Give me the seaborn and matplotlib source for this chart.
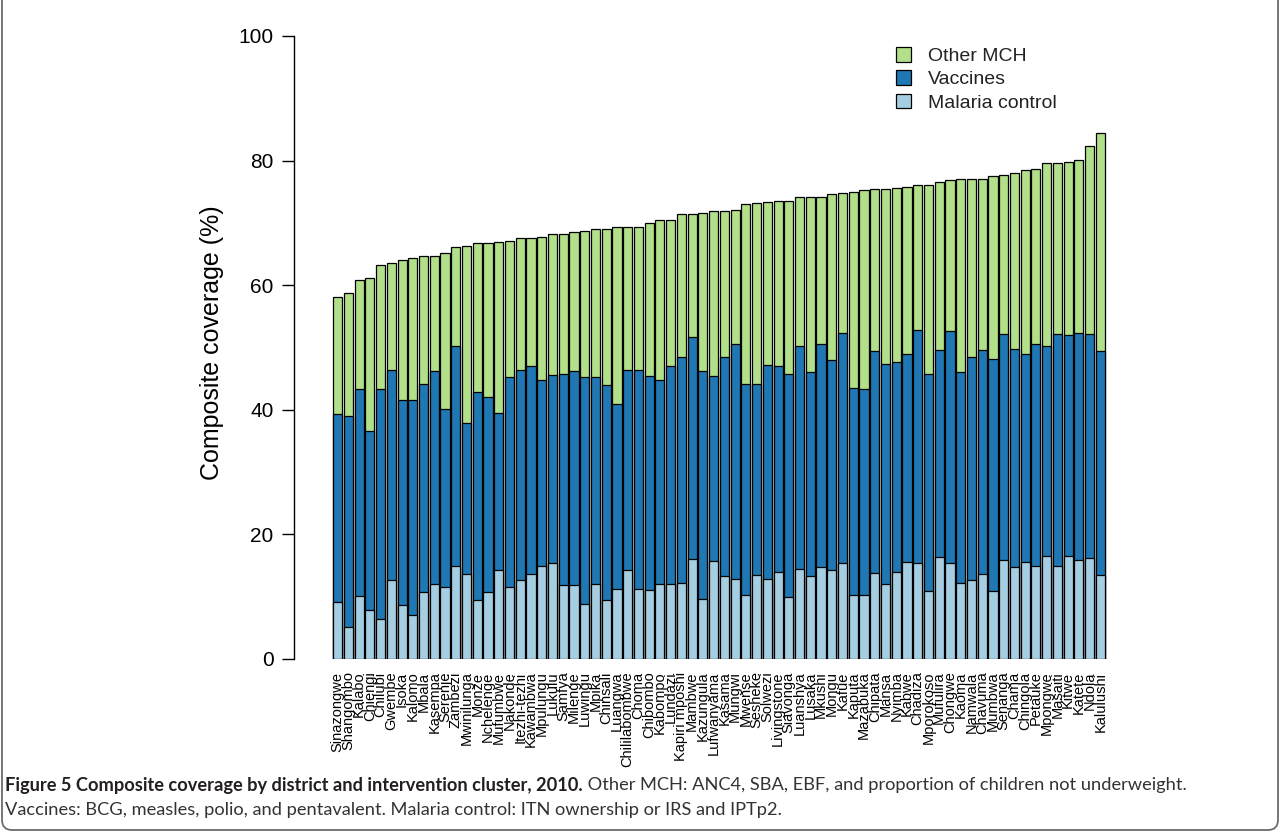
import matplotlib
matplotlib.use("Agg")
import matplotlib.pyplot as plt
from matplotlib.patches import Patch, FancyBboxPatch
from matplotlib.transforms import IdentityTransform
import pandas as pd
import seaborn as sns

# Districts, ordered by composite coverage
districts = [
    "Sinazongwe", "Shangombo", "Kalabo", "Chiengi", "Chilubi", "Gwembe", "Isoka", "Kalomo",
    "Mbala", "Kasempa", "Serenje", "Zambezi", "Mwinilunga", "Monze", "Nchelenge", "Mufumbwe",
    "Nakonde", "Itezhi-tezhi", "Kawambwa", "Mpulungu", "Lukulu", "Samfya", "Milenge", "Luwingu",
    "Mpika", "Chinsali", "Luangwa", "Chililabombwe", "Choma", "Chibombo", "Kabompo", "Lundazi",
    "Kapiri mposhi", "Mambwe", "Kazungula", "Lufwanyama", "Kasama", "Mungwi", "Mwense", "Sesheke",
    "Solwezi", "Livingstone", "Siavonga", "Luanshya", "Lusaka", "Mkushi", "Mongu", "Kafue",
    "Kaputa", "Mazabuka", "Chipata", "Mansa", "Nyimba", "Kabwe", "Chadiza", "Mporokoso",
    "Mufulira", "Chongwe", "Kaoma", "Namwala", "Chavuma", "Mumbwa", "Senanga", "Chama",
    "Chingola", "Petauke", "Mpongwe", "Masaiti", "Kitwe", "Katete", "Ndola", "Kalulushi",
]

# Contribution of each intervention cluster (percentage points)
malaria = [
    9.2, 5.1, 10.1, 7.9, 6.5, 12.6, 8.6, 7.1, 10.8, 12.0, 11.6, 14.9, 13.6, 9.5, 10.8, 14.3,
    11.5, 12.7, 13.6, 14.9, 15.4, 11.8, 11.8, 8.8, 12.1, 9.5, 11.3, 14.3, 11.3, 11.1, 12.1, 12.0,
    12.2, 16.1, 9.7, 15.8, 13.3, 12.9, 10.3, 13.5, 12.9, 14.0, 10.0, 14.5, 13.3, 14.7, 14.3, 15.4,
    10.2, 10.3, 13.8, 12.1, 14.0, 15.5, 15.4, 10.9, 16.3, 15.4, 12.2, 12.6, 13.6, 10.9, 15.9, 14.8,
    15.5, 15.0, 16.6, 15.0, 16.6, 15.9, 16.2, 13.5,
]
vaccines = [
    30.1, 33.9, 33.2, 28.7, 36.8, 33.8, 32.9, 34.4, 33.3, 34.2, 28.6, 35.4, 24.3, 33.4, 31.2, 25.2,
    33.7, 33.7, 33.4, 29.8, 30.2, 33.9, 34.4, 36.5, 33.2, 34.5, 29.6, 32.1, 35.1, 34.4, 32.6, 35.0,
    36.2, 35.5, 36.6, 29.7, 35.1, 37.6, 33.9, 30.7, 34.3, 33.0, 35.7, 35.7, 32.8, 35.9, 33.7, 37.0,
    33.3, 33.0, 35.7, 35.2, 33.6, 33.4, 37.4, 34.8, 33.3, 37.3, 33.9, 35.9, 36.0, 37.2, 36.3, 34.9,
    33.4, 35.6, 33.7, 37.2, 35.4, 36.4, 36.0, 36.0,
]
other_mch = [
    18.8, 19.8, 17.5, 24.5, 19.9, 17.2, 22.5, 22.8, 20.5, 18.4, 25.0, 15.8, 28.4, 23.8, 24.7, 27.4,
    21.9, 21.1, 20.5, 23.1, 22.6, 22.5, 22.3, 23.4, 23.7, 25.0, 28.4, 22.9, 23.0, 24.5, 25.7, 23.5,
    23.0, 19.8, 25.3, 26.4, 23.5, 21.6, 28.8, 29.0, 26.2, 26.5, 27.8, 24.0, 28.1, 23.6, 26.6, 22.4,
    31.4, 31.9, 25.9, 28.1, 28.0, 26.9, 23.2, 30.3, 27.0, 24.1, 31.0, 28.6, 27.5, 29.4, 25.5, 28.3,
    29.6, 28.1, 29.3, 27.4, 27.8, 27.8, 30.1, 34.9,
]

series_labels = ["Other MCH", "Vaccines", "Malaria control"]
y_ticks = [0, 20, 40, 60, 80, 100]

COL_OTHER = "#B2DF8A"
COL_VACC = "#1F78B4"
COL_MAL = "#A6CEE3"

df = pd.DataFrame({"district": districts, "malaria": malaria,
                   "vaccines": vaccines, "other": other_mch})
df["upto_vaccines"] = df["malaria"] + df["vaccines"]
df["total"] = df["upto_vaccines"] + df["other"]

sns.set_theme(style="white")
plt.rcParams["font.family"] = ["Liberation Sans", "DejaVu Sans"]

W, H = 1281, 838
fig = plt.figure(figsize=(W / 100, H / 100), dpi=100)
ax = fig.add_axes([294 / W, 1 - 659 / H, 850 / W, (659 - 11) / H])

# Stacked bars: draw cumulative levels from the top segment down
for col, colour in [("total", COL_OTHER), ("upto_vaccines", COL_VACC), ("malaria", COL_MAL)]:
    sns.barplot(data=df, x="district", y=col, color=colour, saturation=1,
                edgecolor="black", linewidth=0.9, width=0.85, errorbar=None, ax=ax)

ax.set_xlim(-4.06, 75.06)
ax.set_ylim(0, 104)
for side in ["top", "right", "bottom"]:
    ax.spines[side].set_visible(False)
ax.spines["left"].set_bounds(0, 100)
ax.spines["left"].set_color("black")
ax.spines["left"].set_linewidth(1.0)

ax.set_yticks(y_ticks)
ax.set_yticklabels([str(t) for t in y_ticks])
ax.tick_params(axis="y", left=True, length=8.6, width=1.0, color="black",
               pad=6, labelsize=15, labelcolor="black")
ax.tick_params(axis="x", bottom=False, length=0, pad=9, labelsize=10.5,
               labelcolor="black", labelrotation=90)

ax.set_xlabel("")
ax.set_ylabel("Composite coverage (%)", fontsize=18, color="black")
ax.yaxis.label.set_verticalalignment("center")
ax.yaxis.set_label_coords(-0.097, 0.488)

handles = [Patch(facecolor=c, edgecolor="black", linewidth=0.9)
           for c in (COL_OTHER, COL_VACC, COL_MAL)]
ax.legend(handles, series_labels, loc="upper left",
          bbox_to_anchor=(896 / W, 1 - 47 / H), bbox_transform=fig.transFigure,
          frameon=False, fontsize=14, handlelength=0.78, handleheight=0.78,
          handletextpad=0.85, labelspacing=0.27, borderpad=0, borderaxespad=0,
          labelcolor="#222222")

# Rounded frame around the figure panel
frame = FancyBboxPatch((2, 8), 1276, 880, boxstyle="round,pad=0,rounding_size=10",
                       transform=IdentityTransform(), fill=False,
                       edgecolor="#6b6b6b", linewidth=1.3)
fig.add_artist(frame)

# Caption
cap_font = ["Lato", "DejaVu Sans"]
cap_bold = "Figure 5 Composite coverage by district and intervention cluster, 2010."
cap_rest = " Other MCH: ANC4, SBA, EBF, and proportion of children not underweight."
cap_line2 = ("Vaccines: BCG, measles, polio, and pentavalent. "
             "Malaria control: ITN ownership or IRS and IPTp2.")

renderer = fig.canvas.get_renderer()


def text_width(s, size, weight="normal"):
    t = fig.text(0, 0, s, fontsize=size, fontfamily=cap_font, fontweight=weight)
    w = t.get_window_extent(renderer).width
    t.remove()
    return w


cap_size = 12 * 775 / text_width(cap_line2, 12)
x0 = 5
t1 = fig.text(x0 / W, 1 - 785 / H, cap_bold, fontsize=cap_size, fontfamily=cap_font,
              fontweight="bold", color="#231F20", va="center", ha="left")
wb = t1.get_window_extent(renderer).width
fig.text((x0 + wb) / W, 1 - 785 / H, cap_rest, fontsize=cap_size, fontfamily=cap_font,
         color="#333333", va="center", ha="left")
fig.text(x0 / W, 1 - 810 / H, cap_line2, fontsize=cap_size, fontfamily=cap_font,
         color="#333333", va="center", ha="left")

fig.savefig("out.png", dpi=100)
